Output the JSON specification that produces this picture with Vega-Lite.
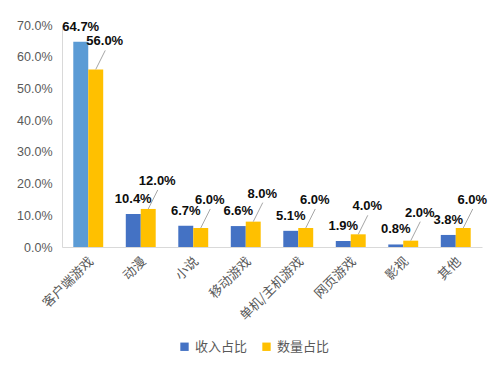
{
  "$schema": "https://vega.github.io/schema/vega-lite/v6.json",
  "width": 420,
  "height": 222,
  "autosize": {"type": "none"},
  "padding": {"left": 62, "top": 25, "right": 18, "bottom": 123},
  "background": "white",
  "config": {
    "view": {"stroke": null},
    "font": "Liberation Sans",
    "axis": {"domainColor": "#D9D9D9", "ticks": false, "grid": false, "labelColor": "#595959", "title": null}
  },
  "data": {
    "values": [
      {"category": "客户端游戏", "series": "收入占比", "value": 0.647},
      {"category": "客户端游戏", "series": "数量占比", "value": 0.560},
      {"category": "动漫", "series": "收入占比", "value": 0.104},
      {"category": "动漫", "series": "数量占比", "value": 0.120},
      {"category": "小说", "series": "收入占比", "value": 0.067},
      {"category": "小说", "series": "数量占比", "value": 0.060},
      {"category": "移动游戏", "series": "收入占比", "value": 0.066},
      {"category": "移动游戏", "series": "数量占比", "value": 0.080},
      {"category": "单机/主机游戏", "series": "收入占比", "value": 0.051},
      {"category": "单机/主机游戏", "series": "数量占比", "value": 0.060},
      {"category": "网页游戏", "series": "收入占比", "value": 0.019},
      {"category": "网页游戏", "series": "数量占比", "value": 0.040},
      {"category": "影视", "series": "收入占比", "value": 0.008},
      {"category": "影视", "series": "数量占比", "value": 0.020},
      {"category": "其他", "series": "收入占比", "value": 0.038},
      {"category": "其他", "series": "数量占比", "value": 0.060}
    ]
  },
  "encoding": {
    "x": {
      "field": "category", "type": "nominal", "sort": null,
      "scale": {"paddingInner": 0.43, "paddingOuter": 0.215},
      "axis": {"labelAngle": -45, "labelFont": "Noto Sans CJK SC", "labelFontSize": 13, "labelPadding": 12, "labelOffset": 3, "labelAlign": "right", "labelBaseline": "middle"}
    },
    "y": {
      "field": "value", "type": "quantitative",
      "scale": {"domain": [0, 0.7], "nice": false},
      "axis": {"values": [0, 0.1, 0.2, 0.3, 0.4, 0.5, 0.6, 0.7], "format": ".1%", "labelFontSize": 12.5, "labelPadding": 10}
    }
  },
  "layer": [
    {
      "mark": {"type": "bar"},
      "encoding": {
        "xOffset": {"field": "series", "type": "nominal", "sort": ["收入占比", "数量占比"], "scale": {"paddingInner": 0, "paddingOuter": 0}},
        "color": {
          "condition": {"test": "datum.category === '客户端游戏' && datum.series === '收入占比'", "value": "#5B9BD5"},
          "field": "series", "type": "nominal",
          "scale": {"domain": ["收入占比", "数量占比"], "range": ["#4472C4", "#FFC000"]},
          "legend": {
            "orient": "none", "legendX": 116, "legendY": 315, "direction": "horizontal", "title": null,
            "symbolType": "square", "symbolSize": 70, "symbolStrokeWidth": 0,
            "labelFont": "Noto Sans CJK SC", "labelFontSize": 13, "labelColor": "#595959",
            "labelOffset": 4, "columnPadding": 12
          }
        }
      }
    },
    {
      "transform": [{"filter": "datum.series === '数量占比'"}],
      "mark": {"type": "rule", "color": "#A6A6A6", "strokeWidth": 1, "xOffset": 7.5, "x2Offset": 17, "y2Offset": -19},
      "encoding": {
        "x2": {"field": "category"},
        "y2": {"field": "value"}
      }
    },
    {
      "transform": [{"filter": "datum.series === '收入占比'"}],
      "mark": {"type": "text", "fontWeight": "bold", "fontSize": 13, "color": "#0D0D0D", "dy": -15, "xOffset": -7.5},
      "encoding": {
        "text": {"field": "value", "type": "quantitative", "format": ".1%"}
      }
    },
    {
      "transform": [{"filter": "datum.series === '数量占比'"}],
      "mark": {"type": "text", "fontWeight": "bold", "fontSize": 13, "color": "#0D0D0D", "dy": -28, "dx": 9, "xOffset": 7.5},
      "encoding": {
        "text": {"field": "value", "type": "quantitative", "format": ".1%"}
      }
    }
  ]
}
